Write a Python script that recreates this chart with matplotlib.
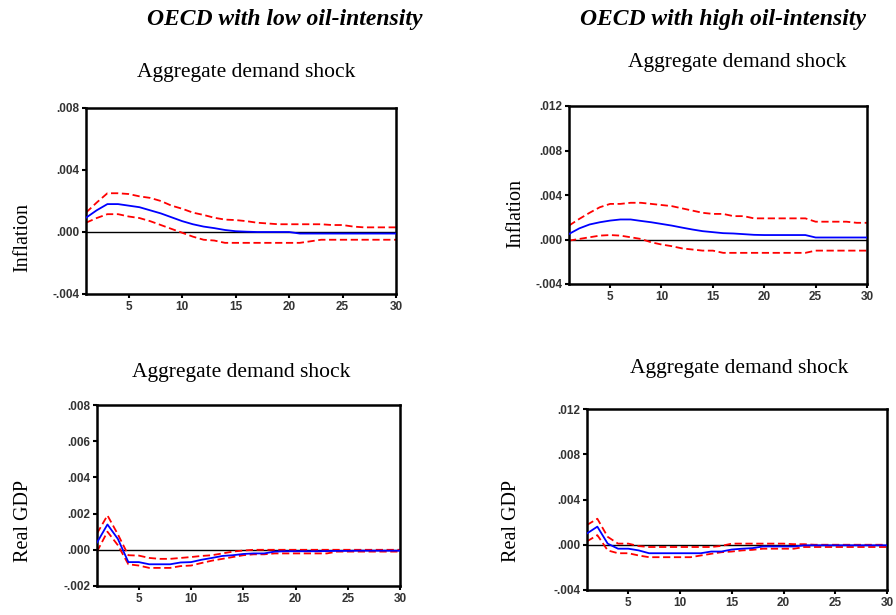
import numpy as np
import matplotlib
matplotlib.use('Agg')
import matplotlib.pyplot as plt
from matplotlib.ticker import FuncFormatter

#%%

periods = np.arange(1, 31)

# inflation response, low oil-intensity group
infl_low = [0.00092, 0.0014, 0.0018, 0.0018, 0.0017, 0.0016, 0.0014, 0.0012, 0.00095, 0.0007,
            0.0005, 0.00035, 0.00025, 0.00013, 0.00005, 0.00002, 0.0, 0.0, 0.0, 0.0,
            -0.0001, -0.0001, -0.0001, -0.0001, -0.0001, -0.0001, -0.0001, -0.0001, -0.0001, -0.0001]
infl_low_up = [0.00125, 0.0019, 0.0025, 0.0025, 0.00245, 0.0023, 0.0022, 0.002, 0.0017, 0.0015,
               0.00125, 0.0011, 0.00092, 0.0008, 0.00077, 0.0007, 0.0006, 0.00055, 0.0005, 0.0005,
               0.0005, 0.0005, 0.0005, 0.00045, 0.00045, 0.00035, 0.0003, 0.0003, 0.0003, 0.0003]
infl_low_lo = [0.0006, 0.0009, 0.00115, 0.00115, 0.001, 0.0009, 0.0007, 0.00045, 0.0002, -0.00005,
               -0.0003, -0.0005, -0.00055, -0.0007, -0.0007, -0.0007, -0.0007, -0.0007, -0.0007, -0.0007,
               -0.0007, -0.0006, -0.0005, -0.0005, -0.0005, -0.0005, -0.0005, -0.0005, -0.0005, -0.0005]

# inflation response, high oil-intensity group
infl_high = [0.0005, 0.001, 0.00135, 0.00155, 0.0017, 0.0018, 0.0018, 0.00167, 0.00155, 0.0014,
             0.00125, 0.00107, 0.0009, 0.00075, 0.00066, 0.00057, 0.00054, 0.00048, 0.00042, 0.0004,
             0.0004, 0.0004, 0.0004, 0.0004, 0.00018, 0.00018, 0.00018, 0.00018, 0.00018, 0.00018]
infl_high_up = [0.00125, 0.00185, 0.0024, 0.0029, 0.0032, 0.0032, 0.0033, 0.0033, 0.0032, 0.0031,
                0.003, 0.0028, 0.0026, 0.0024, 0.0023, 0.0023, 0.0021, 0.0021, 0.0019, 0.0019,
                0.0019, 0.0019, 0.0019, 0.0019, 0.0016, 0.0016, 0.0016, 0.0016, 0.0015, 0.0015]
infl_high_lo = [-0.0001, 0.00005, 0.0002, 0.00035, 0.0004, 0.00035, 0.0002, 0.00005, -0.00025, -0.00045,
                -0.0006, -0.0008, -0.0009, -0.001, -0.001, -0.0012, -0.0012, -0.0012, -0.0012, -0.0012,
                -0.0012, -0.0012, -0.0012, -0.0012, -0.001, -0.001, -0.001, -0.001, -0.001, -0.001]

# real GDP response, low oil-intensity group
gdp_low = [0.0004, 0.0014, 0.0006, -0.00068, -0.00068, -0.0008, -0.0008, -0.0008, -0.0007, -0.00068,
           -0.00055, -0.00045, -0.00034, -0.0003, -0.00023, -0.0002, -0.0002, -0.0001, -0.00008, -0.00008,
           -0.00008, -0.00008, -0.00007, -0.00006, -0.00006, -0.00005, -0.00005, -0.00005, -0.00005, -0.00005]
gdp_low_up = [0.0009, 0.0019, 0.00085, -0.0003, -0.00032, -0.00045, -0.0005, -0.0005, -0.00045, -0.0004,
              -0.00034, -0.0003, -0.0002, -0.0001, -0.00004, 0.0, 0.0, 0.0, 0.0, 0.0,
              0.0, 0.0, 0.0, 0.0, 0.0, 0.0, 0.0, 0.0, 0.0, 0.0]
gdp_low_lo = [-0.0001, 0.001, 0.00025, -0.0008, -0.00087, -0.001, -0.001, -0.001, -0.0009, -0.00087,
              -0.00073, -0.0006, -0.0005, -0.0004, -0.0003, -0.00025, -0.00025, -0.0002, -0.0002, -0.0002,
              -0.0002, -0.0002, -0.0002, -0.0001, -0.0001, -0.0001, -0.0001, -0.0001, -0.0001, -0.0001]

# real GDP response, high oil-intensity group
gdp_high = [0.001, 0.0016, 0.0001, -0.00035, -0.00035, -0.0005, -0.00075, -0.00075, -0.00075, -0.00075,
            -0.00075, -0.00075, -0.0006, -0.0006, -0.00042, -0.00035, -0.0003, -0.00015, -0.00015, -0.00015,
            -0.00015, -0.00005, -0.00005, -0.00005, -0.00005, -0.00005, -0.00005, -0.00005, -0.00005, -0.00005]
gdp_high_up = [0.00175, 0.0023, 0.0007, 0.0001, 0.0001, -0.00012, -0.0002, -0.0002, -0.0002, -0.0002,
               -0.0002, -0.0002, -0.0002, -0.0001, 0.0001, 0.0001, 0.0001, 0.0001, 0.0001, 0.0001,
               0.00005, 0.00005, 0.0, 0.0, 0.0, 0.0, 0.0, 0.0, 0.0, 0.0]
gdp_high_lo = [0.0003, 0.00085, -0.0005, -0.00075, -0.00075, -0.00095, -0.0011, -0.0011, -0.0011, -0.0011,
               -0.0011, -0.00095, -0.0008, -0.00066, -0.0006, -0.0005, -0.00045, -0.00035, -0.00035, -0.00035,
               -0.00035, -0.0002, -0.0002, -0.0002, -0.0002, -0.0002, -0.0002, -0.0002, -0.0002, -0.0002]

#%%

W, H = 896, 615
fig = plt.figure(figsize=(W / 100, H / 100), dpi=100)


def px_axes(left, right, top, bottom):
    return fig.add_axes([left / W, 1 - bottom / H, (right - left) / W, (bottom - top) / H])


def short_fmt(v, pos):
    s = f'{v:.3f}'
    return s.replace('-0.', '-.').replace('0.', '.', 1) if s.startswith(('0', '-0')) else s


panels = [
    (px_axes(86, 396, 108, 294), infl_low, infl_low_up, infl_low_lo, (-0.004, 0.008), 0.004),
    (px_axes(569, 867, 106, 284), infl_high, infl_high_up, infl_high_lo, (-0.004, 0.012), 0.004),
    (px_axes(97, 400, 405, 586), gdp_low, gdp_low_up, gdp_low_lo, (-0.002, 0.008), 0.002),
    (px_axes(587, 887, 409, 590), gdp_high, gdp_high_up, gdp_high_lo, (-0.004, 0.012), 0.004),
]

for ax, mid, up, lo, ylim, step in panels:
    ax.axhline(0, color='black', lw=1.0, zorder=1)
    ax.plot(periods, up, color='red', ls=(0, (4, 2)), lw=1.3, zorder=2)
    ax.plot(periods, lo, color='red', ls=(0, (4, 2)), lw=1.3, zorder=2)
    ax.plot(periods, mid, color='blue', lw=1.3, zorder=3)
    ax.set_xlim(1, 30)
    ax.set_ylim(*ylim)
    ax.set_xticks([5, 10, 15, 20, 25, 30])
    ax.set_yticks(np.arange(ylim[0], ylim[1] + step / 2, step))
    ax.yaxis.set_major_formatter(FuncFormatter(short_fmt))
    ax.tick_params(direction='out', length=3, width=1.5, labelsize=8.5, pad=2)
    for lab in ax.get_xticklabels() + ax.get_yticklabels():
        lab.set_family('Liberation Sans')
        lab.set_fontweight('bold')
        lab.set_color('#333333')
    for sp in ax.spines.values():
        sp.set_linewidth(1.8)

serif = 'Liberation Serif'
fig.text(285 / W, 1 - 20 / H, 'OECD with low oil-intensity', ha='center', va='center',
         family=serif, style='italic', weight='bold', fontsize=17)
fig.text(723 / W, 1 - 20 / H, 'OECD with high oil-intensity', ha='center', va='center',
         family=serif, style='italic', weight='bold', fontsize=17)

for x, y in [(246, 73), (737, 62), (241, 373), (739, 368)]:
    fig.text(x / W, 1 - y / H, 'Aggregate demand shock', ha='center', va='center',
             family=serif, fontsize=15.5)

for x, y, s in [(23, 238, 'Inflation'), (516, 213, 'Inflation'),
                (23, 521, 'Real GDP'), (512, 521, 'Real GDP')]:
    fig.text(x / W, 1 - y / H, s, ha='center', va='center', rotation=90,
             family=serif, fontsize=14.5)

fig.savefig('out.png', dpi=100)
